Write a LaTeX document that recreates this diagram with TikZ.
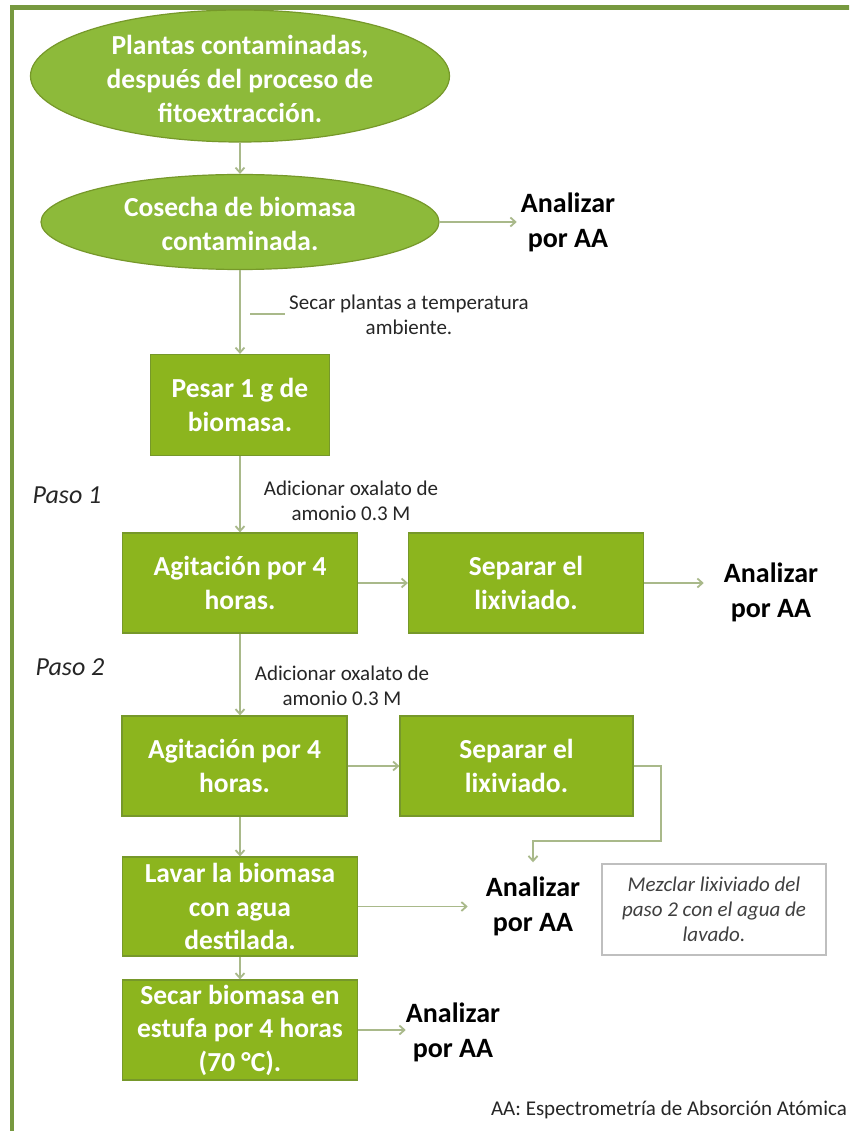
\documentclass[tikz,border=0pt]{standalone}
\usepackage{fontspec}
\setmainfont{Carlito}
\usetikzlibrary{arrows.meta,shapes.geometric}
\definecolor{framec}{HTML}{77993F}
\definecolor{boxfill}{HTML}{8CB51E}
\definecolor{boxline}{HTML}{76982A}
\definecolor{ellfill}{HTML}{8DBA3A}
\definecolor{connc}{HTML}{A9B98A}
\definecolor{notegray}{HTML}{404040}
\definecolor{noteline}{HTML}{BFBFBF}
\begin{document}
\begin{tikzpicture}[x=1pt,y=-1pt,
  ell/.style={ellipse, fill=ellfill, draw=boxline, line width=1.2pt, inner sep=0pt},
  wtext/.style={text=white, font=\fontsize{27.5}{34}\selectfont\bfseries, align=center, inner sep=0pt},
  gbox/.style={rectangle, fill=boxfill, draw=boxline, line width=1.2pt, inner sep=0pt, text=white, font=\fontsize{27.5}{33.5}\selectfont\bfseries, align=center},
  atext/.style={text=black, font=\fontsize{28}{35}\selectfont\bfseries, align=center, inner sep=0pt},
  stext/.style={text=black!85, font=\fontsize{21}{25.5}\selectfont, align=center, inner sep=0pt},
  ptext/.style={text=black!85, font=\fontsize{26}{30}\selectfont\itshape, inner sep=0pt},
  notebox/.style={rectangle, draw=noteline, line width=1.2pt, fill=white, text=notegray, font=\fontsize{21}{25}\selectfont\itshape, align=center, inner sep=0pt},
  conn/.style={draw=connc, line width=1.8pt, -{Straight Barb[length=5pt,width=9pt]}},
  plainconn/.style={draw=connc, line width=1.8pt},
  framel/.style={draw=framec, line width=4.5pt}
]
\clip (0,0) rectangle (849,1131);
\fill[white] (0,0) rectangle (849,1131);
% frame
\draw[framel] (12,1140) -- (12,7.5) -- (870,7.5);

% ellipses
\node[ell, minimum width=419pt, minimum height=132pt] (e1) at (240,76) {};
\node[wtext] (e1t) at (240,79) {Plantas contaminadas,\\después del proceso de\\fitoextracción.};
\node[ell, minimum width=398pt, minimum height=95pt] (e2) at (240,222) {};
\node[wtext] (e2t) at (240,224) {Cosecha de biomasa\\contaminada.};
\node[atext] (a1) at (568,222) {Analizar\\por AA};

% secar label
\node[stext] (lsecar) at (409,315) {Secar plantas a temperatura\\ambiente.};
\coordinate (lk1) at (250,314);
\coordinate (lk2) at (285,314);

% pesar
\node[gbox, minimum width=179pt, minimum height=101pt] (pesar) at (240,405) {Pesar 1 g de\\biomasa.};

\node[ptext] (paso1) at (67,495) {Paso 1};
\node[stext] (ad1) at (351,501) {Adicionar oxalato de\\amonio 0.3 M};

% paso 1 row
\node[gbox, minimum width=235pt, minimum height=100pt] (ag1) at (240,583) {Agitación por 4\\horas.};
\node[gbox, minimum width=235pt, minimum height=100pt] (sp1) at (526,583) {Separar el\\lixiviado.};
\node[atext] (a2) at (771,592) {Analizar\\por AA};

\node[ptext] (paso2) at (70,667) {Paso 2};
\node[stext] (ad2) at (342,686) {Adicionar oxalato de\\amonio 0.3 M};

% paso 2 row
\node[gbox, minimum width=225pt, minimum height=100pt] (ag2) at (234.5,766) {Agitación por 4\\horas.};
\node[gbox, minimum width=233pt, minimum height=100pt] (sp2) at (516.5,766) {Separar el\\lixiviado.};

% lavar
\node[gbox, minimum width=235pt, minimum height=99pt] (lav) at (240,906.5) {Lavar la biomasa\\con agua\\destilada.};
\node[atext] (a3) at (533,906) {Analizar\\por AA};
\node[notebox, minimum width=224pt, minimum height=91pt] (note) at (714,909.5) {Mezclar lixiviado del\\paso 2 con el agua de\\lavado.};

% secar biomasa
\node[gbox, minimum width=235pt, minimum height=100pt] (sec) at (240,1030) {Secar biomasa en\\estufa por 4 horas\\(70 °C).};
\node[atext] (a4) at (453,1032) {Analizar\\por AA};

\node[stext, anchor=east] (foot) at (847,1110) {AA: Espectrometría de Absorción Atómica};

% connectors
\draw[conn] (e1.south) -- (e2.north);
\draw[conn, shorten >=4pt] (e2.east) -- (a1.west);
\draw[conn] (e2.south) -- (pesar.north);
\draw[plainconn] (lk1) -- (lk2);
\draw[conn] (pesar.south) -- (ag1.north);
\draw[conn] (ag1.east) -- (sp1.west);
\draw[conn, shorten >=20pt] (sp1.east) -- (a2.west |- sp1.east);
\draw[conn] (ag1.south) -- (ag1.south |- ag2.north);
\draw[conn] (ag2.east) -- (sp2.west);
\draw[conn, shorten >=14pt] (sp2.east) -- ++(27,0) -- ++(0,75) -| (a3.north);
\draw[conn] (ag2.south -| ag1.south) -- (lav.north);
\draw[conn, shorten >=18pt] (lav.east) -- (a3.west |- lav.east);
\draw[conn] (lav.south) -- (sec.north);
\draw[conn] (sec.east) -- (a4.west |- sec.east);
\end{tikzpicture}
\end{document}
